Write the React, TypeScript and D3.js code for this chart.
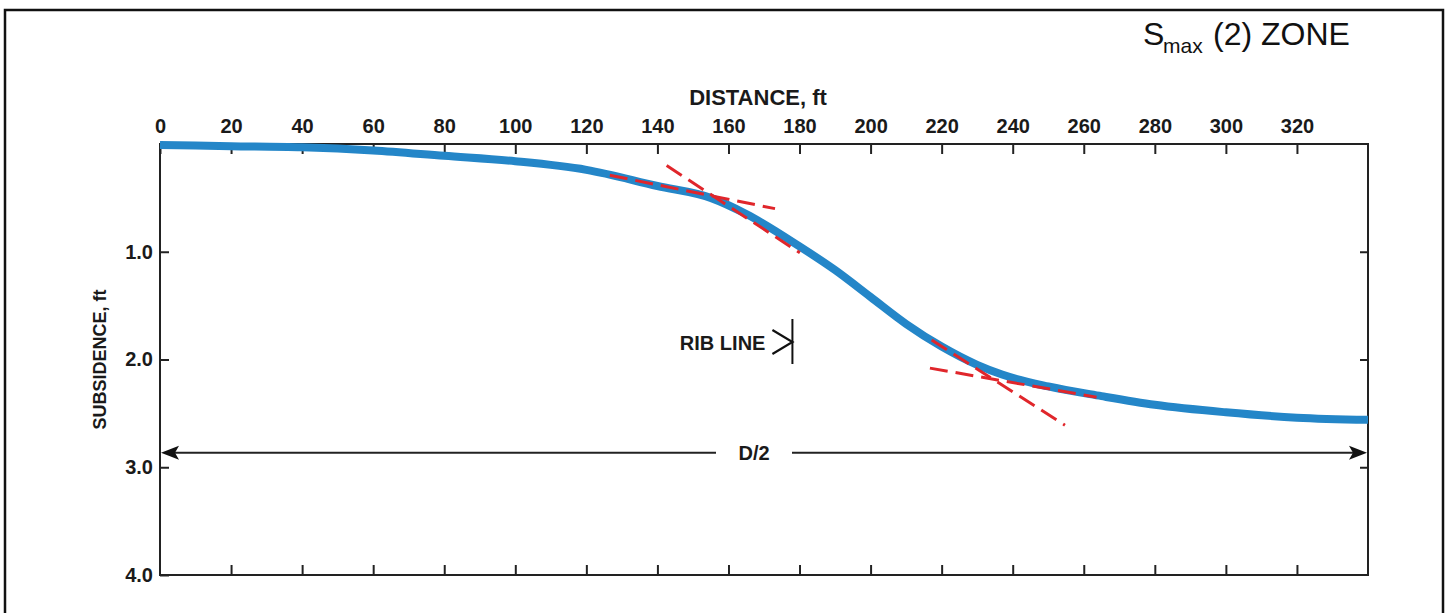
import React, { useEffect, useRef } from 'react';
import * as d3 from 'd3';

// subsidence profile
const distance = [0, 20, 40, 60, 80, 100, 120, 140, 155, 165, 180, 190, 200, 210, 220, 230, 237, 250, 265, 280, 300, 320, 340];
const subsidence = [0.01, 0.02, 0.03, 0.06, 0.11, 0.16, 0.24, 0.39, 0.5, 0.65, 0.95, 1.17, 1.42, 1.67, 1.88, 2.05, 2.14, 2.25, 2.34, 2.42, 2.49, 2.54, 2.56];

// tangent construction lines (start/end in ft)
const tangentX1 = [126.6, 142.6, 217.2, 216.7];
const tangentY1 = [0.29, 0.2, 1.82, 2.08];
const tangentX2 = [173.1, 180.1, 254.7, 263.6];
const tangentY2 = [0.6, 1.01, 2.61, 2.35];

const xTicks = [0, 20, 40, 60, 80, 100, 120, 140, 160, 180, 200, 220, 240, 260, 280, 300, 320];
const yTicks = [1, 2, 3, 4];
const ribLine = 178;
const halfWidthDepth = 2.865;

const App = () => {
    const ref = useRef(null);

    useEffect(() => {
        const width = 1452;
        const height = 613;
        const margin = { top: 144, left: 160, right: 84, bottom: 38 };
        const w = width - margin.left - margin.right;
        const h = height - margin.top - margin.bottom;
        const font = '"Liberation Sans", Arial, sans-serif';
        const ink = '#1a1a1a';

        const svg = d3.select(ref.current)
            .append('svg')
            .attr('width', width)
            .attr('height', height)
            .style('position', 'absolute')
            .style('left', 0)
            .style('top', 0)
            .style('background', '#fff')
            .style('font-family', font);

        // outer frame
        svg.append('rect')
            .attr('x', 5).attr('y', 10)
            .attr('width', 1438).attr('height', 640)
            .attr('fill', 'none').attr('stroke', '#111').attr('stroke-width', 2.5);

        const x = d3.scaleLinear().domain([0, 340]).range([0, w]);
        const y = d3.scaleLinear().domain([0, 4]).range([0, h]);

        const g = svg.append('g').attr('transform', `translate(${margin.left},${margin.top})`);

        const styleAxis = (sel) => {
            sel.select('.domain').remove();
            sel.selectAll('line').attr('stroke', '#222').attr('stroke-width', 2);
            sel.selectAll('text')
                .attr('fill', ink)
                .style('font-family', font)
                .style('font-weight', 'bold')
                .style('font-size', '20px');
        };

        g.append('g')
            .call(d3.axisTop(x).tickValues(xTicks).tickSize(-10).tickPadding(11).tickFormat(d3.format('d')))
            .call(styleAxis);

        g.append('g')
            .attr('transform', `translate(0,${h})`)
            .call(d3.axisBottom(x).tickValues(xTicks.slice(1)).tickSize(-10).tickFormat(() => ''))
            .call(styleAxis);

        g.append('g')
            .call(d3.axisLeft(y).tickValues(yTicks).tickSize(-9).tickPadding(7).tickFormat(d3.format('.1f')))
            .call(styleAxis);

        g.append('g')
            .attr('transform', `translate(${w},0)`)
            .call(d3.axisRight(y).tickValues([1, 2, 3]).tickSize(-8).tickFormat(() => ''))
            .call(styleAxis);

        g.append('rect')
            .attr('width', w).attr('height', h)
            .attr('fill', 'none').attr('stroke', '#222').attr('stroke-width', 2);

        // axis titles
        svg.append('text')
            .attr('x', 758).attr('y', 105)
            .attr('text-anchor', 'middle')
            .style('font-size', '22px').style('font-weight', 'bold').attr('fill', ink)
            .text('DISTANCE, ft');

        svg.append('text')
            .attr('transform', `translate(106,${margin.top + h / 2}) rotate(-90)`)
            .attr('text-anchor', 'middle')
            .style('font-size', '18px').style('font-weight', 'bold').attr('fill', ink)
            .text('SUBSIDENCE, ft');

        // title
        const title = svg.append('text')
            .attr('y', 45)
            .style('font-size', '32px').attr('fill', '#111');
        title.append('tspan').attr('x', 1143).text('S');
        title.append('tspan').attr('x', 1163).attr('dy', 8).style('font-size', '21px').text('max');
        title.append('tspan').attr('x', 1213).attr('dy', -8).text('(2) ZONE');

        // D/2 dimension arrow
        const yd = y(halfWidthDepth);
        const gapL = 716;
        const gapR = 792;
        g.append('line')
            .attr('x1', x(0) + 10).attr('x2', gapL - margin.left)
            .attr('y1', yd).attr('y2', yd)
            .attr('stroke', '#222').attr('stroke-width', 2);
        g.append('line')
            .attr('x1', gapR - margin.left).attr('x2', x(340) - 10)
            .attr('y1', yd).attr('y2', yd)
            .attr('stroke', '#222').attr('stroke-width', 2);
        g.append('path')
            .attr('d', `M${x(0) + 1},${yd} L${x(0) + 19},${yd - 7} L${x(0) + 15},${yd} L${x(0) + 19},${yd + 7} Z`)
            .attr('fill', '#111');
        g.append('path')
            .attr('d', `M${x(340) - 1},${yd} L${x(340) - 19},${yd - 7} L${x(340) - 15},${yd} L${x(340) - 19},${yd + 7} Z`)
            .attr('fill', '#111');
        g.append('text')
            .attr('x', (gapL + gapR) / 2 - margin.left).attr('y', yd + 7)
            .attr('text-anchor', 'middle')
            .style('font-size', '20px').style('font-weight', 'bold').attr('fill', ink)
            .text('D/2');

        // rib line marker
        const xr = x(ribLine);
        g.append('line')
            .attr('x1', xr).attr('x2', xr).attr('y1', 319 - margin.top).attr('y2', 364 - margin.top)
            .attr('stroke', '#111').attr('stroke-width', 2);
        g.append('path')
            .attr('d', `M${xr - 20},${330 - margin.top} L${xr},${342 - margin.top} L${xr - 20},${354 - margin.top}`)
            .attr('fill', 'none').attr('stroke', '#111').attr('stroke-width', 2.2);
        g.append('text')
            .attr('x', xr - 27).attr('y', 350 - margin.top)
            .attr('text-anchor', 'end')
            .style('font-size', '20px').style('font-weight', 'bold').attr('fill', ink)
            .text('RIB LINE');

        // subsidence curve
        const line = d3.line()
            .x((d) => x(d[0]))
            .y((d) => y(d[1]))
            .curve(d3.curveMonotoneX);

        g.append('path')
            .datum(distance.map((d, i) => [d, subsidence[i]]))
            .attr('d', line)
            .attr('fill', 'none')
            .attr('stroke', '#2486c8')
            .attr('stroke-width', 8);

        // tangent lines
        g.selectAll('.tangent')
            .data(tangentX1)
            .enter()
            .append('line')
            .attr('class', 'tangent')
            .attr('x1', (d) => x(d))
            .attr('y1', (d, i) => y(tangentY1[i]))
            .attr('x2', (d, i) => x(tangentX2[i]))
            .attr('y2', (d, i) => y(tangentY2[i]))
            .attr('stroke', '#e0262b')
            .attr('stroke-width', 3)
            .attr('stroke-dasharray', '18 8');

        return () => {
            svg.remove();
        };
    }, []);

    return <div ref={ref}></div>;
};

export default App;
